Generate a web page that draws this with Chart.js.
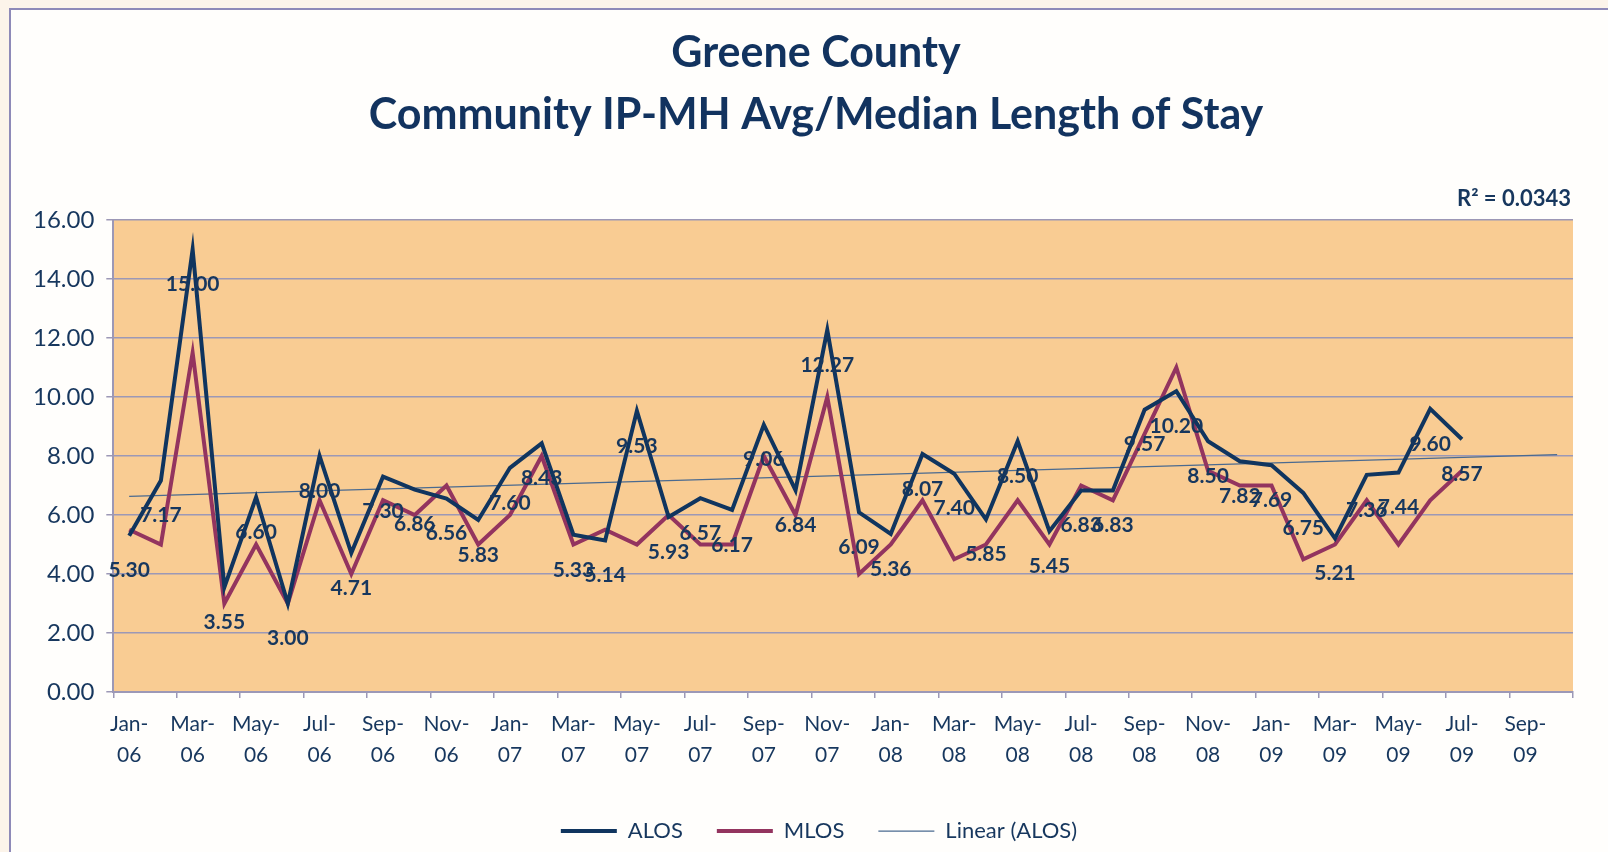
<!DOCTYPE html>
<html>
<head>
<meta charset="utf-8">
<script src="https://cdn.jsdelivr.net/npm/chart.js@4"></script>
<style>
html,body{margin:0;padding:0;overflow:hidden;background:#FCF4EA;width:1608px;height:852px;}
#box{position:absolute;left:9px;top:8px;width:1597px;height:842px;border-left:2px solid #8E8AB8;border-top:2px solid #8E8AB8;background:#FFFEFC;}
#wrap{position:relative;width:1597px;height:842px;}
</style>
</head>
<body>
<div id="box"><div id="wrap"><canvas id="c"></canvas></div></div>
<script>
// Categories (months) on the x axis
const months = ['Jan-06','Feb-06','Mar-06','Apr-06','May-06','Jun-06','Jul-06','Aug-06','Sep-06','Oct-06','Nov-06','Dec-06',
  'Jan-07','Feb-07','Mar-07','Apr-07','May-07','Jun-07','Jul-07','Aug-07','Sep-07','Oct-07','Nov-07','Dec-07',
  'Jan-08','Feb-08','Mar-08','Apr-08','May-08','Jun-08','Jul-08','Aug-08','Sep-08','Oct-08','Nov-08','Dec-08',
  'Jan-09','Feb-09','Mar-09','Apr-09','May-09','Jun-09','Jul-09','Aug-09','Sep-09','Oct-09'];

// Average length of stay
const alos = [5.30,7.17,15.00,3.55,6.60,3.00,8.00,4.71,7.30,6.86,6.56,5.83,
  7.60,8.43,5.33,5.14,9.53,5.93,6.57,6.17,9.06,6.84,12.27,6.09,
  5.36,8.07,7.40,5.85,8.50,5.45,6.83,6.83,9.57,10.20,8.50,7.82,
  7.69,6.75,5.21,7.36,7.44,9.60,8.57];

// Median length of stay
const mlos = [5.5,5.0,11.5,3.0,5.0,3.0,6.5,4.0,6.5,6.0,7.0,5.0,
  6.0,8.0,5.0,5.5,5.0,6.0,5.0,5.0,8.0,6.0,10.0,4.0,
  5.0,6.5,4.5,5.0,6.5,5.0,7.0,6.5,8.75,11.0,7.5,7.0,
  7.0,4.5,5.0,6.5,5.0,6.5,7.5];

// Linear trend of ALOS, end points
const trendMonths = ['Jan-06','Oct-09'];
const trendValues = [6.63, 8.05];
const r2Text = 'R\u00B2 = 0.0343';

// Y axis ticks
const yMin = 0, yMax = 16, yStep = 2;

const TXT = '#17375E';
const GRID = '#9C98B6';
const FONT = 'Lato, "Open Sans", sans-serif';

const plotBg = {
  id: 'plotBg',
  beforeDraw(chart) {
    const {ctx, chartArea: a} = chart;
    ctx.save();
    ctx.fillStyle = '#F9CC93';
    ctx.fillRect(a.left, a.top, a.right - a.left, a.bottom - a.top);
    ctx.restore();
  }
};

// shift the legend and title blocks so that they are centred like the original
const blockShift = {
  id: 'blockShift',
  afterLayout(chart) {
    if (chart.legend) {
      chart.legend.left += 27;
      chart.legend.right += 27;
    }
    if (chart.titleBlock) {
      chart.titleBlock.left += 24;
      chart.titleBlock.right += 24;
    }
  }
};

const dataLabels = {
  id: 'dataLabels',
  afterDatasetsDraw(chart) {
    const {ctx} = chart;
    const meta = chart.getDatasetMeta(0);
    const vals = chart.data.datasets[0].data;
    ctx.save();
    ctx.font = 'bold 21px ' + FONT;
    ctx.fillStyle = TXT;
    ctx.textAlign = 'center';
    ctx.textBaseline = 'middle';
    meta.data.forEach((pt, i) => {
      if (vals[i] == null) return;
      ctx.fillText(vals[i].toFixed(2), pt.x, pt.y + 35);
    });
    ctx.restore();
  }
};

const r2Label = {
  id: 'r2Label',
  afterDraw(chart) {
    const {ctx} = chart;
    ctx.save();
    ctx.font = 'bold 22px ' + FONT;
    ctx.fillStyle = TXT;
    ctx.textAlign = 'right';
    ctx.textBaseline = 'alphabetic';
    ctx.fillText(r2Text, chart.chartArea.right - 2, chart.chartArea.top - 14);
    ctx.restore();
  }
};

new Chart(document.getElementById('c'), {
  type: 'line',
  data: {
    labels: months,
    datasets: [
      {label: 'ALOS', data: alos, borderColor: '#10355F', backgroundColor: '#10355F', borderWidth: 4, pointRadius: 0, tension: 0},
      {label: 'MLOS', data: mlos, borderColor: '#93345F', backgroundColor: '#93345F', borderWidth: 4, pointRadius: 0, tension: 0},
      {label: 'Linear (ALOS)', data: trendMonths.map((m, i) => ({x: m, y: trendValues[i]})), borderColor: '#4A6A90', backgroundColor: '#4A6A90', borderWidth: 1.25, pointRadius: 0, tension: 0}
    ]
  },
  options: {
    responsive: true,
    maintainAspectRatio: false,
    animation: false,
    events: [],
    layout: {padding: {left: 0, right: 35, top: 0, bottom: 0}},
    plugins: {
      tooltip: {enabled: false},
      title: {
        display: true,
        text: ['Greene County', 'Community IP-MH Avg/Median Length of Stay'],
        color: '#12335F',
        font: {family: FONT, size: 43, weight: 'bold', lineHeight: 1.45},
        padding: {top: 12, bottom: 73.3}
      },
      legend: {
        position: 'bottom',
        labels: {
          usePointStyle: true,
          pointStyle: 'line',
          pointStyleWidth: 56,
          padding: 34,
          color: TXT,
          font: {family: FONT, size: 22}
        }
      }
    },
    scales: {
      x: {
        type: 'category',
        offset: true,
        afterFit(s) { s.height = 94; },
        grid: {
          offset: true,
          drawOnChartArea: false,
          drawTicks: true,
          tickLength: 6,
          lineWidth: 1.5,
          color: (ctx) => (ctx.index === undefined || ctx.index % 2 === 0) ? GRID : 'rgba(0,0,0,0)'
        },
        border: {display: true, color: GRID, width: 2},
        ticks: {
          autoSkip: false,
          maxRotation: 0,
          minRotation: 0,
          padding: 10.5,
          color: TXT,
          font: {family: FONT, size: 21, lineHeight: 1.48},
          callback(v, i) {
            if (i % 2 !== 0) return '';
            const m = months[i];
            return [m.slice(0, 4), m.slice(4)];
          }
        }
      },
      y: {
        min: yMin,
        max: yMax,
        afterFit(s) { s.width = 102.3; },
        grid: {color: GRID, lineWidth: 1.5, tickLength: 7, drawTicks: true},
        border: {display: true, color: GRID, width: 2},
        ticks: {
          stepSize: yStep,
          padding: 12,
          color: TXT,
          font: {family: FONT, size: 24},
          callback: (v) => v.toFixed(2)
        }
      }
    }
  },
  plugins: [plotBg, blockShift, dataLabels, r2Label]
});
</script>
</body>
</html>
